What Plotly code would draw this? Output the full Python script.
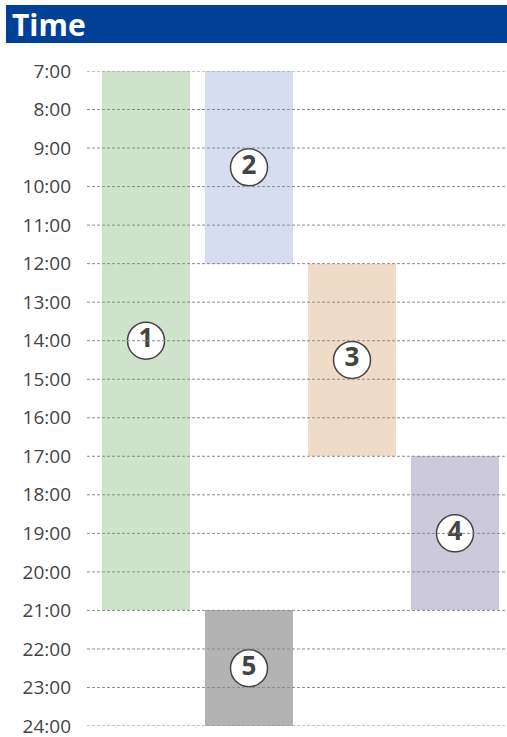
import plotly.graph_objects as go

# Data
numbers = ["1", "2", "3", "4", "5"]
columns = [0, 1, 2, 3, 1]
starts = [7, 7, 12, 17, 21]
ends = [21, 12, 17, 21, 24]
colors = ["#cfe2cc", "#d6ddef", "#efdcc8", "#cbc9da", "#b3b3b3"]
hours = list(range(7, 25))
hour_labels = [f"{h}:00" for h in hours]
title_text = "Time"

fig = go.Figure()

durations = [e - s for s, e in zip(starts, ends)]
fig.add_trace(go.Bar(
    x=columns, y=durations, base=starts,
    marker=dict(color=colors, line=dict(width=0)),
    width=0.855, hoverinfo="skip", showlegend=False,
))

shapes = []
for h in hours:
    shapes.append(dict(type="line", xref="paper", x0=0, x1=1, yref="y", y0=h, y1=h,
                       line=dict(color="#8c8c8c", width=1, dash="3px,2px"), layer="above"))

mids = [(s + e) / 2 for s, e in zip(starts, ends)]
fig.add_trace(go.Scatter(
    x=columns, y=mids, mode="markers+text",
    marker=dict(size=37, color="white", line=dict(color="#444444", width=1.5)),
    text=["<b>" + n + "</b>" for n in numbers], textposition="middle center",
    textfont=dict(family="Open Sans, sans-serif", size=26, color="#444444"),
    hoverinfo="skip", showlegend=False,
))

shapes.append(dict(type="rect", xref="paper", yref="paper", x0=-81/420, x1=1,
                   y0=(726 - 43) / 655, y1=(726 - 5) / 655,
                   fillcolor="#004097", line=dict(width=0), layer="above"))

fig.update_layout(
    width=507, height=737,
    margin=dict(l=87, r=0, t=71, b=11, autoexpand=False),
    paper_bgcolor="white", plot_bgcolor="white",
    bargap=0,
    xaxis=dict(range=[-0.573, 3.505], showgrid=False, zeroline=False,
               showticklabels=False, fixedrange=True, automargin=False),
    yaxis=dict(range=[24, 7], tickvals=hours, ticktext=hour_labels,
               showgrid=False, zeroline=False, ticks="", ticklabelstandoff=15,
               ticklabeloverflow="allow", automargin=False,
               tickfont=dict(family="Open Sans, sans-serif", size=19, color="#444444")),
    shapes=shapes,
    annotations=[dict(text="<b>" + title_text + "</b>", xref="paper", yref="paper",
                      x=-77/420, y=(726 - 24) / 655, xanchor="left", yanchor="middle",
                      showarrow=False,
                      font=dict(family="Open Sans, sans-serif", size=30, color="white"))],
)

fig.write_html("out.html", config={"displayModeBar": False},
               post_script="document.body.style.margin='0';")
